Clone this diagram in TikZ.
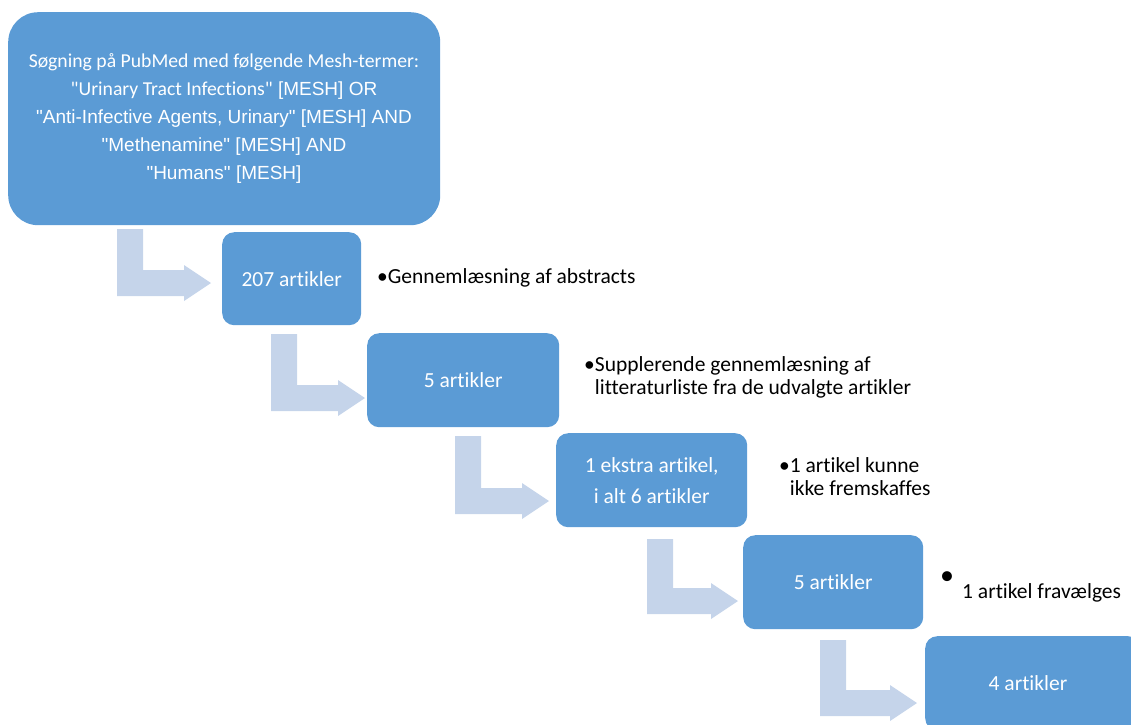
\documentclass[tikz,border=0pt]{standalone}
\usepackage{fontspec}
\setmainfont{Carlito}[Ligatures={NoCommon,TeXOff}]
\newfontfamily\arial{Liberation Sans}
\definecolor{boxblue}{RGB}{91,155,213}
\definecolor{arrblue}{RGB}{197,212,234}
\tikzset{
  box/.style={fill=boxblue, draw=none, text=white, anchor=north west, align=center, inner sep=0pt,
    rounded corners=12pt, font=\fontsize{21.5}{24}\selectfont},
  arr/.style={fill=arrblue, draw=none},
  note/.style={anchor=west, align=left, inner sep=0pt, text=black, font=\fontsize{21.5}{23}\selectfont}
}
\newcommand\bentarr[4]{\fill[arr] (#1,#2) -- (#1+26,#2) -- (#1+26,#3-26) -- (#4-27,#3-26) -- (#4-27,#3-31) -- (#4,#3-13) -- (#4-27,#3+5) -- (#4-27,#3) -- (#1,#3) -- cycle;}
\begin{document}
\begin{tikzpicture}[x=1pt,y=-1pt]
\useasboundingbox (0,0) rectangle (1131,724);
\clip (0,0) rectangle (1131,724);
% arrows
\bentarr{117}{229}{296}{211}
\bentarr{271}{334}{411}{365}
\bentarr{455}{436}{514}{549}
\bentarr{647}{539}{614}{738}
\bentarr{820}{640}{716}{917}
% boxes
\node[box, rounded corners=30pt, minimum width=432pt, minimum height=213pt] (b0) at (8,12) {};
\node[text=white, align=center, font=\fontsize{19}{28}\selectfont] (t0) at (224,118) {%
{\fontsize{19.7}{28}\selectfont Søgning på PubMed med følgende Mesh-termer:}\\
{\fontsize{19.7}{28}\selectfont "Urinary Tract Infections"}{\arial\ [MESH] OR}\\
{\arial "Anti-Infective Agents, Urinary" [MESH] AND}\\
{\arial "Methenamine" [MESH] AND}\\
{\arial "Humans" [MESH]}};
\node[box, minimum width=139pt, minimum height=93pt] (b1) at (222,232) {207 artikler};
\node[box, minimum width=192pt, minimum height=94pt] (b2) at (367,333) {5 artikler};
\node[box, minimum width=191pt, minimum height=94pt, font=\fontsize{21.5}{31}\selectfont] (b3) at (556,433) {1 ekstra artikel,\\i alt 6 artikler};
\node[box, minimum width=180pt, minimum height=94pt] (b4) at (743,535) {5 artikler};
\node[box, minimum width=215pt, minimum height=94pt] (b5) at (925,636) {};
\node[text=white, font=\fontsize{21.5}{24}\selectfont, inner sep=0pt] (t5) at (1028,683) {4 artikler};
% notes
\node[note] (n1) at (377,278) {•Gennemlæsning af abstracts};
\node[note] (n2) at (584,377) {•Supplerende gennemlæsning af\\\phantom{•}litteraturliste fra de udvalgte artikler};
\node[note] (n3) at (779,477) {•1 artikel kunne\\\phantom{•}ikke fremskaffes};
\node[note, font=\fontsize{28}{23}\selectfont] (n4b) at (940,578) {•};
\node[note] (n4) at (962,593) {1 artikel fravælges};
\end{tikzpicture}
\end{document}
